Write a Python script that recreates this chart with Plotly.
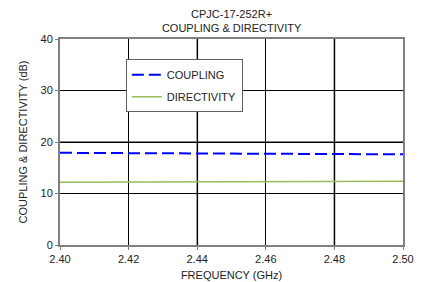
import plotly.graph_objects as go

freq = [2.40, 2.42, 2.44, 2.46, 2.48, 2.50]
coupling = [17.9, 17.85, 17.8, 17.72, 17.65, 17.6]
directivity = [12.2, 12.22, 12.26, 12.3, 12.35, 12.4]

x_ticks = [2.40, 2.42, 2.44, 2.46, 2.48, 2.50]
x_ticklabels = ["2.40", "2.42", "2.44", "2.46", "2.48", "2.50"]
y_ticks = [0, 10, 20, 30, 40]
x_gray_grid = [2.44, 2.48]
y_gray_grid = [20]

font = "Liberation Sans, Arial, sans-serif"

fig = go.Figure()
fig.add_trace(go.Scatter(x=freq, y=coupling, mode="lines", name="COUPLING",
                         legendgroup="a",
                         line=dict(color="#0000FF", width=2, dash="12px,5px")))
fig.add_trace(go.Scatter(x=freq, y=directivity, mode="lines", name="DIRECTIVITY",
                         legendgroup="b",
                         line=dict(color="#9BBB59", width=1.5)))

shapes = []
for xv in x_gray_grid:
    shapes.append(dict(type="line", xref="x", yref="paper", x0=xv, x1=xv, y0=0, y1=1,
                       line=dict(color="#808080", width=2), layer="below"))
for yv in y_gray_grid:
    shapes.append(dict(type="line", xref="paper", yref="y", x0=0, x1=1, y0=yv, y1=yv,
                       line=dict(color="#808080", width=2), layer="below"))

fig.update_layout(
    width=430, height=282,
    margin=dict(l=52, r=35, t=31, b=45, autoexpand=False),
    paper_bgcolor="white", plot_bgcolor="white",
    font=dict(family=font, size=11, color="#222222"),
    title=dict(text="CPJC-17-252R+<br>COUPLING & DIRECTIVITY", x=0.52,
               xanchor="center", y=0.965, yanchor="middle",
               font=dict(family=font, size=11, color="#222222")),
    xaxis=dict(range=[2.40, 2.50], tickvals=x_ticks, ticktext=x_ticklabels,
               showgrid=True, gridcolor="#000000", gridwidth=1,
               showline=True, linecolor="#808080", linewidth=2, mirror=True,
               ticks="outside", ticklen=3, tickcolor="#808080",
               zeroline=False, automargin=False,
               title=dict(text="FREQUENCY (GHz)", standoff=7,
                          font=dict(family=font, size=11))),
    yaxis=dict(range=[0, 40], tickvals=y_ticks,
               showgrid=True, gridcolor="#000000", gridwidth=1,
               showline=True, linecolor="#808080", linewidth=2, mirror=True,
               ticks="outside", ticklen=3, tickcolor="#808080",
               zeroline=False, automargin=False,
               title=dict(text="COUPLING & DIRECTIVITY (dB)", standoff=11,
                          font=dict(family=font, size=11))),
    shapes=shapes,
    showlegend=True,
    legend=dict(x=0.192, y=0.902, xanchor="left", yanchor="top",
                bgcolor="white", bordercolor="#606060", borderwidth=1,
                tracegroupgap=3, font=dict(family=font, size=11, color="#222222")),
)

fig.write_html("out.html")
